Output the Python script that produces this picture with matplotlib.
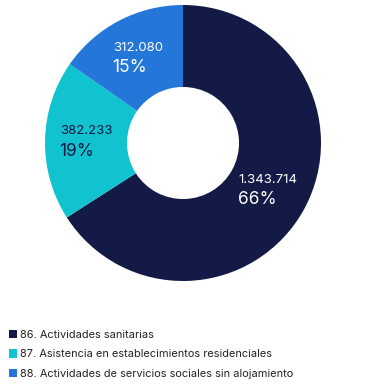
import matplotlib.pyplot as plt
from matplotlib.patches import Patch
import numpy as np

plt.rcParams['font.family'] = ['Inter', 'DejaVu Sans']

# data
categories = ['86. Actividades sanitarias',
              '87. Asistencia en establecimientos residenciales',
              '88. Actividades de servicios sociales sin alojamiento']
values = [1343714, 382233, 312080]
value_labels = ['1.343.714', '382.233', '312.080']
pct_labels = ['66%', '19%', '15%']
colors = ['#121a45', '#10c3cf', '#2477d8']
text_colors = ['white', '#121a45', 'white']

W, H = 372, 385
fig = plt.figure(figsize=(W / 100, H / 100), dpi=100)

# pie axes: radius 1 -> 138 px, centre at (183, 143) from top
R = 138
cx, cy = 183, 143
ax = fig.add_axes([(cx - R) / W, (H - cy - R) / H, 2 * R / W, 2 * R / H])
wedges, _ = ax.pie(values, colors=colors, startangle=90, counterclock=False,
                   wedgeprops=dict(width=0.594, linewidth=0))
ax.set_xlim(-1, 1)
ax.set_ylim(-1, 1)
ax.set_aspect('equal')
ax.axis('off')

# labels inside the wedges
fig.canvas.draw()
renderer = fig.canvas.get_renderer()
for w, vl, pl, tc in zip(wedges, value_labels, pct_labels, text_colors):
    mid = np.deg2rad((w.theta1 + w.theta2) / 2)
    r = 0.70
    x, y = r * np.cos(mid), r * np.sin(mid)
    t1 = ax.text(x, y + 0.07, vl, ha='center', va='center', fontsize=9.5,
                 color=tc)
    bb = t1.get_window_extent(renderer=renderer)
    xl = ax.transData.inverted().transform((bb.x0, bb.y0))[0]
    ax.text(xl - 0.005, y - 0.075, pl, ha='left', va='center', fontsize=12.5,
            color=tc)

# legend
handles = [Patch(facecolor=c, edgecolor='none') for c in colors]
fig.legend(handles, categories, loc='upper left',
           bbox_to_anchor=(9 / W, 1 - 330 / H), frameon=False,
           fontsize=7.9, handlelength=0.75, handleheight=0.75,
           handletextpad=0.25, labelspacing=0.85, borderpad=0,
           borderaxespad=0, labelcolor='#222222')

fig.savefig('out.png', dpi=100)
